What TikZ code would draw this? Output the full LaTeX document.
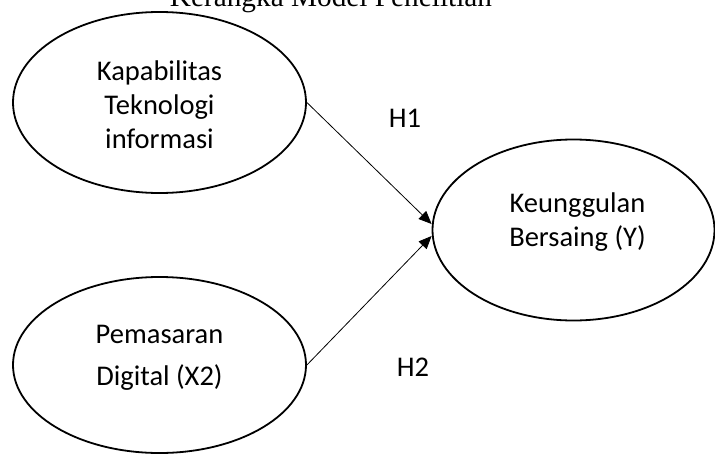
\documentclass[tikz,border=0pt]{standalone}
\usepackage{fontspec}
\setmainfont{Carlito}
\newfontfamily\judulfont{Liberation Serif}
\usetikzlibrary{shapes.geometric,arrows.meta}
\tikzset{
	oval/.style={draw, ellipse, line width=1.8pt, inner sep=0pt},
	teks/.style={align=center, font=\fontsize{28.5}{34}\selectfont},
	panah/.style={line width=0.8pt, -{Triangle[length=13pt,width=11pt]}}
}

\begin{document}
\begin{tikzpicture}[x=1pt, y=-1pt]
		%%%%% START %%%%%
		\useasboundingbox (0, 0) rectangle (715, 455);
		\clip (0, 0) rectangle (715, 455);
		
		\node[anchor=base, font=\judulfont\fontsize{29.3}{34}\selectfont] (judul) at (331, 6) {Kerangka Model Penelitian};
		
		\node[oval, minimum width=293pt, minimum height=181pt,
			label={[teks, yshift=-2pt]center:{Kapabilitas\\Teknologi\\informasi}}] (tek) at (159.5, 102.5) {};
		\node[oval, minimum width=293pt, minimum height=176pt,
			label={[teks, yshift=7pt]center:{Pemasaran\\[8pt]Digital (X2)}}] (pem) at (159.5, 365) {};
		\node[oval, minimum width=282pt, minimum height=181pt,
			label={[teks, xshift=4pt, yshift=8pt]center:{Keunggulan\\Bersaing (Y)}}] (keu) at (573.5, 230) {};
		
		\draw[panah] (tek.east) -- ([yshift=6pt]keu.west);
		\draw[panah] (pem.east) -- ([yshift=-6pt]keu.west);
		
		\node[teks] (h1) at (405, 118) {H1};
		\node[teks] (h2) at (413, 367) {H2};
		
		%%%%% END %%%%%
	\end{tikzpicture}
\end{document}
